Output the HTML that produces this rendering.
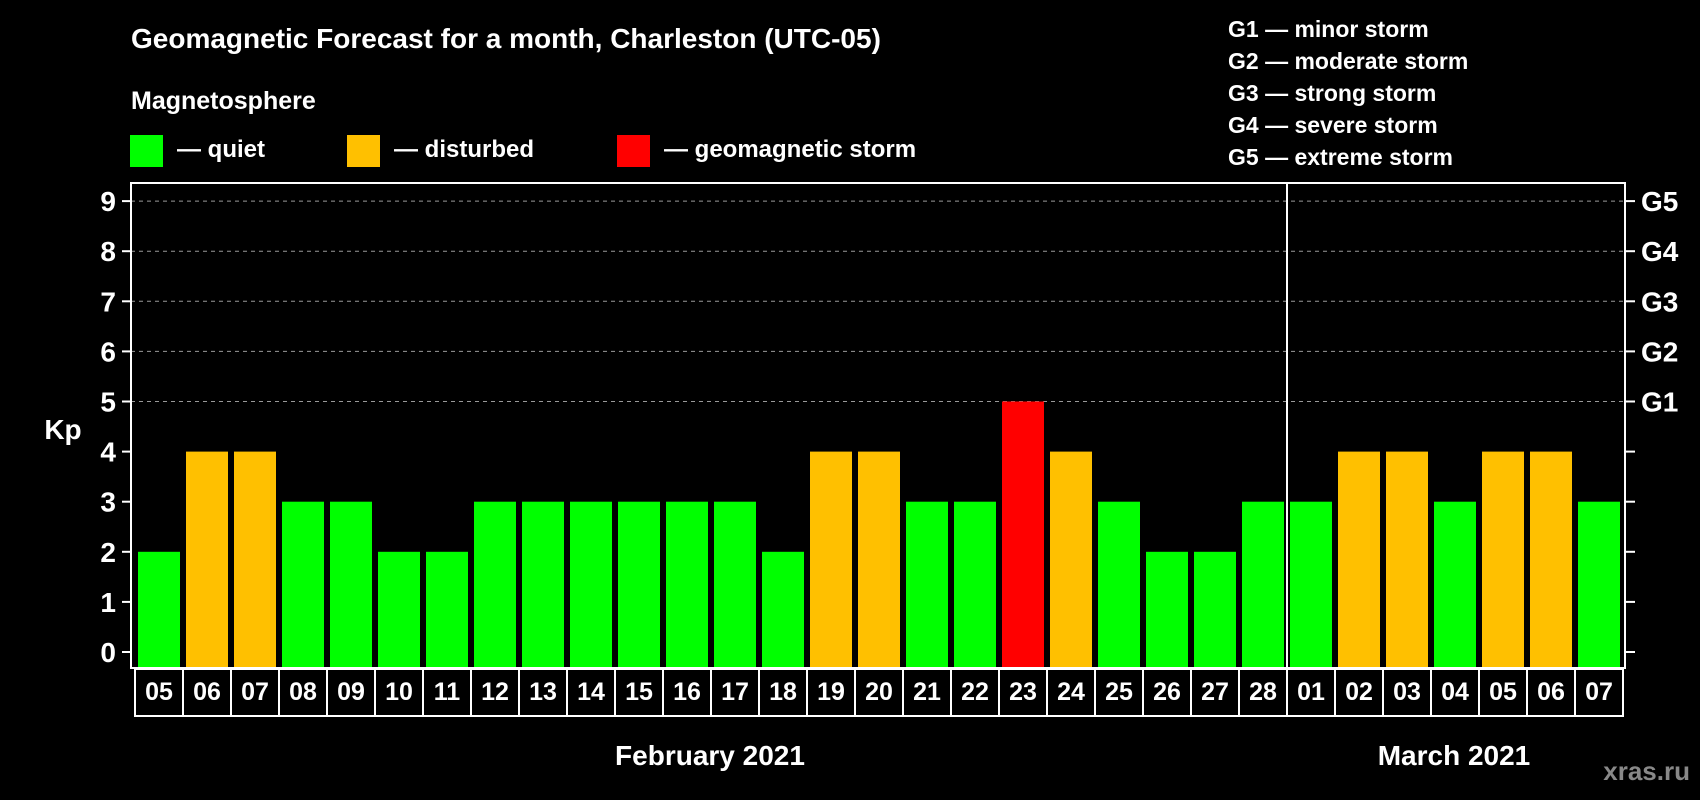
<!DOCTYPE html>
<html><head><meta charset="utf-8"><style>
html,body{margin:0;padding:0;background:#000;}
svg{display:block;font-family:"Liberation Sans",Arial,sans-serif;font-weight:bold;}
</style></head><body>
<svg id="chart" width="1700" height="800" viewBox="0 0 1700 800">
<text x="131" y="48" fill="#fff" font-size="28">Geomagnetic Forecast for a month, Charleston (UTC-05)</text>
<text x="131" y="109" fill="#fff" font-size="25">Magnetosphere</text>
<g><rect x="130" y="135" width="33" height="32" fill="#00ff00"/><text x="177" y="157" fill="#fff" font-size="24">— quiet</text></g>
<g><rect x="347" y="135" width="33" height="32" fill="#ffc000"/><text x="394" y="157" fill="#fff" font-size="24">— disturbed</text></g>
<g><rect x="617" y="135" width="33" height="32" fill="#ff0000"/><text x="664" y="157" fill="#fff" font-size="24">— geomagnetic storm</text></g>
<g fill="#fff" font-size="23">
<text x="1228" y="37">G1 — minor storm</text>
<text x="1228" y="69">G2 — moderate storm</text>
<text x="1228" y="101">G3 — strong storm</text>
<text x="1228" y="133">G4 — severe storm</text>
<text x="1228" y="165">G5 — extreme storm</text>
</g>
<g id="grid"></g>
<g id="bars"></g>
<rect x="131" y="183" width="1494" height="485" fill="none" stroke="#fff" stroke-width="2"/>
<line x1="1287" y1="183" x2="1287" y2="716" stroke="#fff" stroke-width="2"/>
<g id="axes"></g>
<g id="dates"></g>
<text x="63" y="439" fill="#fff" font-size="28" text-anchor="middle">Kp</text>
<text x="710" y="765" fill="#fff" font-size="28" text-anchor="middle">February 2021</text>
<text x="1454" y="765" fill="#fff" font-size="28" text-anchor="middle">March 2021</text>
<text x="1690" y="780" fill="#888" font-size="26" text-anchor="end">xras.ru</text>
</svg>
<script>
const days = ["05","06","07","08","09","10","11","12","13","14","15","16","17","18","19","20","21","22","23","24","25","26","27","28","01","02","03","04","05","06","07"];
const kpValues = [2,4,4,3,3,2,2,3,3,3,3,3,3,2,4,4,3,3,5,4,3,2,2,3,3,4,4,3,4,4,3];
const yTicks = [0,1,2,3,4,5,6,7,8,9];
const gLabels = ["G1","G2","G3","G4","G5"];
const NS="http://www.w3.org/2000/svg";
const y=v=>652-50.1*v;
const x=i=>135+48*i;
function mk(t,a,p){const e=document.createElementNS(NS,t);for(const k in a)e.setAttribute(k,a[k]);p.appendChild(e);return e;}
const grid=document.getElementById('grid'),bars=document.getElementById('bars'),axes=document.getElementById('axes'),dates=document.getElementById('dates');
yTicks.forEach(v=>{
  if(v>=5){const l=mk('line',{x1:131,x2:1625,y1:y(v),y2:y(v),stroke:'#999','stroke-width':1,'stroke-dasharray':'4,4'},grid);
  
  }
  mk('line',{x1:122,x2:131,y1:y(v),y2:y(v),stroke:'#fff','stroke-width':2},axes);
  mk('line',{x1:1625,x2:1635,y1:y(v),y2:y(v),stroke:'#fff','stroke-width':2},axes);
  const t=mk('text',{x:116,y:y(v)+10,fill:'#fff','font-size':28,'text-anchor':'end'},axes);
  t.textContent=v;
  
  
});
gLabels.forEach((g,i)=>{
  const t=mk('text',{x:1641,y:y(5+i)+10,fill:'#fff','font-size':28},axes);
  t.textContent=g;
  
  
});
kpValues.forEach((v,i)=>{
  const c=v>=5?'#ff0000':(v>=4?'#ffc000':'#00ff00');
  const r=mk('rect',{x:x(i)+3,y:y(v),width:42,height:668-y(v),fill:c},bars);
  
  
  const b=mk('rect',{x:x(i),y:669,width:48,height:47,fill:'none',stroke:'#fff','stroke-width':2},dates);
  
  
  const t=mk('text',{x:x(i)+24,y:700,fill:'#fff','font-size':25,'text-anchor':'middle'},dates);
  t.textContent=days[i];
  
  
});
</script>
</body></html>
